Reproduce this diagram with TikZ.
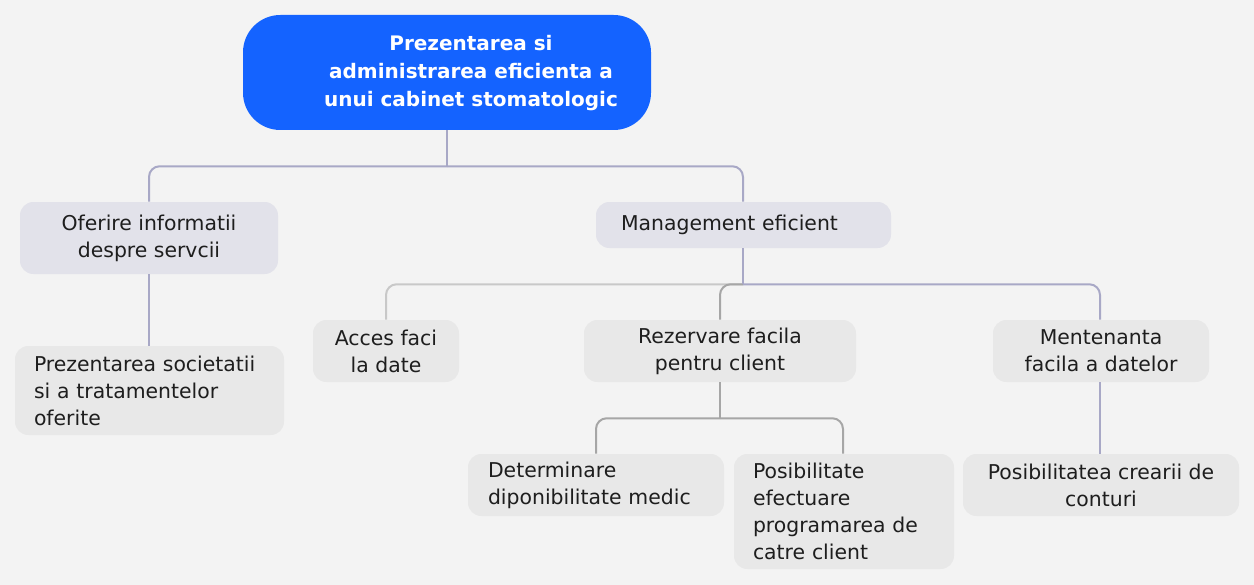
\documentclass[tikz,border=0pt]{standalone}
\usepackage{fontspec}
\setmainfont{DejaVu Sans}
\usepackage{tikz}
\usetikzlibrary{positioning}
\usepackage{xcolor}
\definecolor{dfbg}{RGB}{243,243,243}
\definecolor{dfblue}{RGB}{20,99,255}
\definecolor{dflavender}{RGB}{226,226,234}
\definecolor{dfgrey}{RGB}{232,232,232}
\definecolor{dftext}{RGB}{30,30,30}
\definecolor{dflinkpurple}{RGB}{168,168,198}
\definecolor{dflinkgrey}{RGB}{166,166,166}
\definecolor{dflinklight}{RGB}{200,200,200}
\newcommand{\bodyfont}{\fontsize{15.3}{20.25}\selectfont}
\newcommand{\titlefont}{\fontsize{15}{21}\selectfont\bfseries}
\tikzstyle{rootbox} = [rounded corners=28pt, fill=dfblue, text=white, font=\titlefont, align=center, minimum width=306pt, minimum height=86.25pt]
\tikzstyle{topic} = [rounded corners=10pt, fill=dflavender, text=dftext, font=\bodyfont, inner ysep=0pt]
\tikzstyle{subtopic} = [rounded corners=10pt, fill=dfgrey, text=dftext, font=\bodyfont, inner ysep=0pt]
\tikzstyle{link} = [line width=1.5pt, rounded corners=8pt, color=dflinkpurple]
\tikzstyle{greylink} = [link, color=dflinkgrey]
\tikzstyle{lightlink} = [link, color=dflinklight]

\begin{document}
\begin{tikzpicture}[x=0.75pt, y=-0.75pt]
\useasboundingbox (0,0) rectangle (1254,585);
\fill[dfbg] (0,0) rectangle (1254,585);

% Root
\node[rootbox] (root) at (447,72.5) {\hspace*{36pt}\begin{tabular}{@{}c@{}}\rule{0pt}{13pt}Prezentarea si\\administrarea eficienta a\\unui cabinet stomatologic\end{tabular}};

% First level
\node[topic, minimum width=193.5pt, minimum height=54pt, align=center] (oferire) at (149,238) {Oferire informatii\\despre servcii};
\node[topic, text width=183.75pt, inner xsep=18.75pt, minimum height=34.5pt, align=left] (mgmt) at (743.5,225) {Management eficient};

% Second level
\node[subtopic, text width=173.25pt, inner xsep=14.25pt, minimum height=66.75pt, align=left] (prez) at (149.5,390.5) {Prezentarea societatii\\si a tratamentelor\\oferite};
\node[subtopic, minimum width=109.5pt, minimum height=46.5pt, align=center] (acces) at (386,351) {Acces faci\\la date};
\node[subtopic, minimum width=204pt, minimum height=46.5pt, align=center] (rezerv) at (720,351) {Rezervare facila\\pentru client};
\node[subtopic, minimum width=162pt, minimum height=46.5pt, align=center] (menten) at (1101,351) {Mentenanta\\facila a datelor};

% Third level
\node[subtopic, text width=162pt, inner xsep=15pt, minimum height=46.5pt, align=left] (determ) at (596,485) {Determinare\\diponibilitate medic};
\node[subtopic, text width=136.5pt, inner xsep=14.25pt, minimum height=86.25pt, align=left] (posib) at (844,511.5) {Posibilitate\\efectuare\\programarea de\\catre client};
\node[subtopic, minimum width=207pt, minimum height=46.5pt, align=center] (conturi) at (1101,485) {Posibilitatea crearii de\\conturi};

% Connectors
\draw[link] (root.south) -- ++(0,36) coordinate (rootjoin);
\draw[link] (oferire.north) |- (rootjoin);
\draw[link] (mgmt.north -| 743,0) |- (rootjoin);
\draw[link] (oferire.south) -- (prez.north -| oferire.south);

\draw[link] (mgmt.south -| 743,0) -- ++(0,36) coordinate (mgmtjoin);
\draw[lightlink] (acces.north) |- (mgmtjoin);
\draw[greylink] (rezerv.north) |- (mgmtjoin);
\draw[link] (menten.north -| 1100,0) |- (mgmtjoin);
\draw[link] (mgmt.south -| 743,0) -- (mgmtjoin);

\draw[greylink] (rezerv.south) -- ++(0,36) coordinate (rezervjoin);
\draw[greylink] (determ.north) |- (rezervjoin);
\draw[greylink] (posib.north -| 843,0) |- (rezervjoin);

\draw[link] (menten.south -| 1100,0) -- (conturi.north -| 1100,0);
\end{tikzpicture}
\end{document}
